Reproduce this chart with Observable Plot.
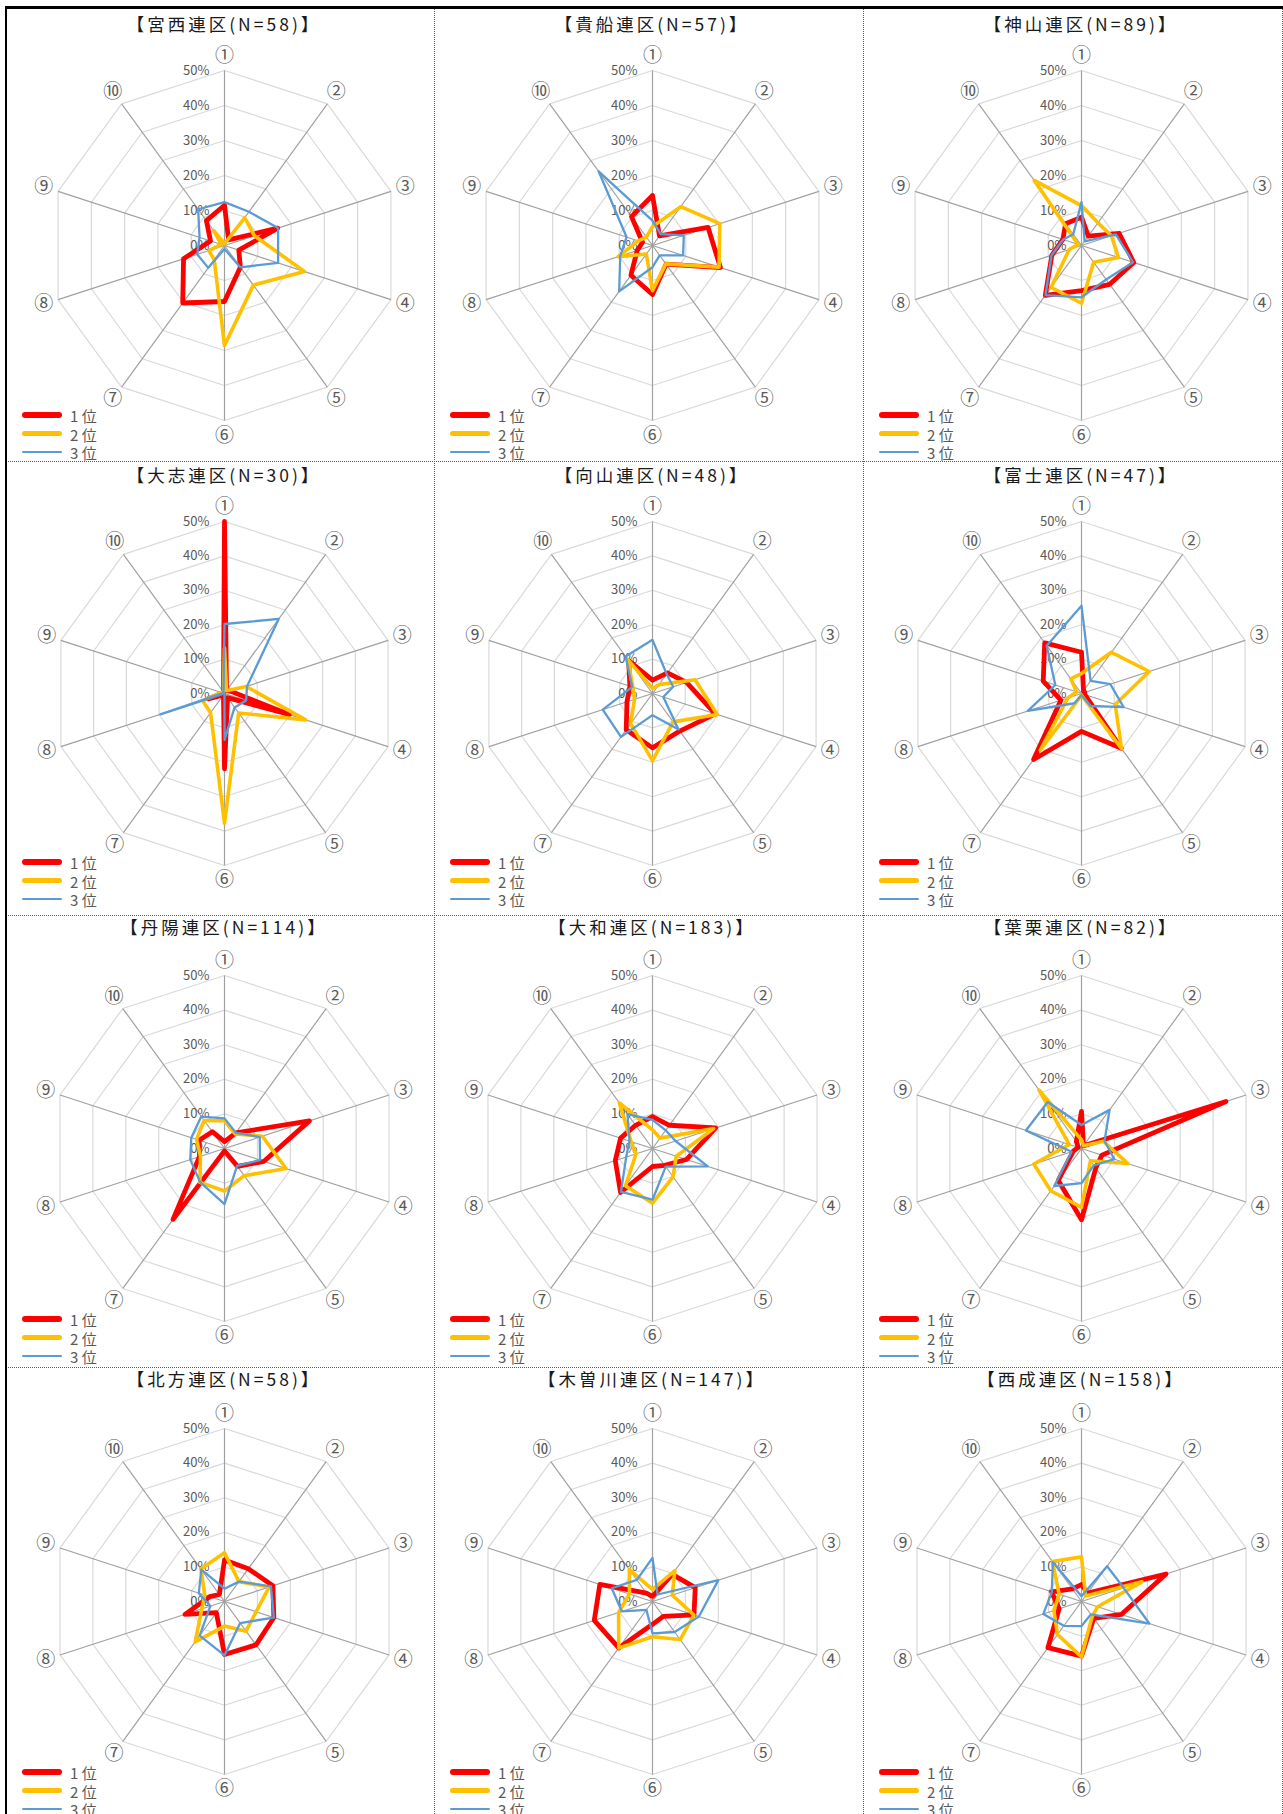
<!DOCTYPE html>
<html>
<head>
<meta charset="utf-8">
<script src="https://cdn.jsdelivr.net/npm/d3@7"></script>
<script src="https://cdn.jsdelivr.net/npm/@observablehq/plot@0.6"></script>
<style>
html, body { margin: 0; padding: 0; background: #fff; }
body { width: 1283px; height: 1814px; overflow: hidden; position: relative;
  font-family: "Noto Sans CJK JP", "Noto Sans", sans-serif; }
.abs { position: absolute; }
.title { position: absolute; text-align: center; font-size: 17.5px; letter-spacing: 3px;
  color: #1a1a1a; white-space: nowrap; line-height: 1; transform: translate(-50%, -50%); }
.legline { position: absolute; border-radius: 3px; }
.legtext { position: absolute; font-size: 15px; color: #595959; line-height: 1; transform: translateY(-50%); white-space: nowrap; }
.vsep { position: absolute; width: 0; border-left: 1px dotted #5a5a5a; }
.hsep { position: absolute; height: 0; border-top: 1px dotted #5a5a5a; }
svg { overflow: visible; }
</style>
</head>
<body>
<script>
// ---------- data ----------
const axisLabels = ["①","②","③","④","⑤","⑥","⑦","⑧","⑨","⑩"];
const gridTicks = [0, 10, 20, 30, 40, 50];
const rankNames = ["1 位", "2 位", "3 位"];
const districtNames = ["宮西連区","貴船連区","神山連区","大志連区","向山連区","富士連区",
                       "丹陽連区","大和連区","葉栗連区","北方連区","木曽川連区","西成連区"];
const districtN = [58, 57, 89, 30, 48, 47, 114, 183, 82, 58, 147, 158];

const rank1Values = [
  [11.5, 2, 16, 4.3, 7.7, 16, 20.3, 12.3, 4.2, 8.8],
  [14.3, 3.4, 16.7, 20.4, 6.6, 14, 10.5, 4.6, 3, 10.2],
  [8.1, 3.3, 11.3, 15.7, 13.7, 12.9, 17.6, 8.9, 5.6, 7.7],
  [50, 1, 2, 19.8, 1.5, 21.9, 0.5, 5, 0.5, 0.5],
  [3.9, 7.4, 10.4, 19.2, 13.5, 15.8, 13, 7.8, 6.9, 11.8],
  [12, 1, 1, 1, 19.7, 11, 23.7, 6.3, 11.7, 18.2],
  [2, 5.6, 25.8, 12, 6.4, 0.7, 25.3, 7.6, 7.7, 6],
  [9.2, 8.3, 19.2, 10.3, 6, 5.2, 15.7, 11.3, 9.7, 8.3],
  [10.7, 1, 43.9, 6.2, 7, 20.6, 11.4, 2.5, 1, 2.5],
  [12, 11.7, 14.7, 15, 15.5, 15.3, 4, 12, 4.5, 2.5],
  [1.5, 9.7, 13, 12.6, 5.3, 6.6, 16.6, 17.7, 16, 3],
  [4.9, 3, 25.7, 12.1, 6, 15.8, 16.5, 6.8, 9.1, 4.5]
];
const rank2Values = [
  [0.5, 9.8, 9, 24, 14, 28.6, 5, 4.7, 1, 5.3],
  [5.4, 13.7, 20.2, 20, 6.5, 12.9, 3, 10.3, 4.3, 3],
  [11.4, 8, 9, 11.1, 5.9, 16.5, 14.8, 3.7, 1, 23],
  [13.2, 1, 6.6, 24.8, 7, 37.7, 6.9, 6.7, 1, 0.5],
  [1.5, 3.2, 13, 19.8, 10.2, 19.5, 10.8, 5.5, 6, 12.2],
  [5.8, 14.8, 20.7, 10.3, 19.8, 0.5, 20.4, 4.2, 1.5, 5.3],
  [8, 5.2, 11.5, 18.7, 9.7, 12.3, 12.1, 7.3, 8.5, 10],
  [5.4, 3.7, 18.6, 7.2, 10.1, 15.8, 13.3, 5, 6.5, 16.3],
  [2.5, 1, 6.7, 14.1, 4.4, 17, 15.1, 14.5, 3.7, 20.9],
  [14.1, 7.1, 13.6, 9.6, 10.6, 7.1, 14.4, 6.9, 6, 11.6],
  [3.5, 11, 6, 12.6, 13.6, 10.2, 16.6, 10.3, 7, 11.4],
  [12.9, 2, 18.4, 4.9, 5.3, 16, 11.8, 8.4, 6.8, 14.3]
];
const rank3Values = [
  [12.4, 11.9, 16.1, 16.1, 7.7, 1, 7.9, 8.2, 7.5, 12.8],
  [7.1, 4, 9.4, 9.2, 3.5, 6.2, 16.2, 9.7, 7.8, 26.2],
  [12.4, 1.5, 10.3, 15.5, 12, 14.8, 17.5, 9, 5.5, 4],
  [20.2, 26.8, 6.9, 6.6, 5, 13.5, 0, 19.6, 0.5, 0.5],
  [15.6, 7, 6.3, 3.3, 12.9, 6.3, 15.6, 15.2, 6.2, 13.3],
  [25.5, 4.5, 8.8, 12.9, 4.5, 0.5, 3.5, 16.4, 8, 17.2],
  [8.7, 5.6, 10.7, 10.8, 6.2, 16.1, 12, 10.4, 10.1, 11.4],
  [8.3, 6.5, 7, 16.8, 6.5, 14.8, 15.5, 8, 7, 12.3],
  [6.8, 13.8, 7, 10, 6, 10, 13.4, 3, 16.9, 16.6],
  [3.7, 7.1, 14.1, 15, 7.7, 15.6, 12.2, 4.3, 7.8, 11.4],
  [12.6, 2.5, 20, 14.1, 10.9, 9.2, 3, 9.3, 12.4, 7.7],
  [1.5, 12.6, 12.8, 20.6, 4.6, 7.1, 8.7, 11.6, 9, 14.1]
];

// ---------- layout / style ----------
const rankColors = ["#FF0000", "#FFC000", "#5B9BD5"];
const rankWidths = [4.8, 3.6, 2.3];
const legendThick = [5.5, 4.5, 2.6];
const colLeft = [6, 434, 863], colRight = [434, 863, 1283];
const rowTop = [7, 461, 915, 1367], rowBottom = [461, 915, 1367, 1814];
const centerY = [245, 693, 1148, 1601];
const radius50 = [175, 172, 173, 173];
const titleY = [24, 475, 927, 1379];
const legendY = [415, 862, 1319, 1772];
const centerOffsetX = 218;

const ang = j => j * 2 * Math.PI / 10;
const px = (v, j) => v * Math.sin(ang(j));
const py = (v, j) => v * Math.cos(ang(j));

function closed(vals) {
  return d3.range(11).map(i => ({j: i % 10, v: vals[i % 10]}));
}

function radar(p) {
  const row = Math.floor(p / 3), col = p % 3;
  const W = colRight[col] - colLeft[col], H = rowBottom[row] - rowTop[row];
  const cx = centerOffsetX, cy = centerY[row] - rowTop[row];
  const k = radius50[row] / 50;
  const rings = gridTicks.filter(t => t > 0).flatMap(t => d3.range(11).map(i => ({t, j: i % 10})));
  const axes = axisLabels.map((label, j) => ({label, j}));
  const series = [rank1Values[p], rank2Values[p], rank3Values[p]];
  return Plot.plot({
    width: W, height: H, margin: 0,
    style: {background: "transparent", fontFamily: "'Noto Sans CJK JP', sans-serif", overflow: "visible"},
    x: {type: "linear", domain: [-cx / k, (W - cx) / k], range: [0, W], axis: null},
    y: {type: "linear", domain: [-(H - cy) / k, cy / k], range: [H, 0], axis: null},
    marks: [
      Plot.line(rings, {x: d => px(d.t, d.j), y: d => py(d.t, d.j), z: "t", stroke: "#d9d9d9", strokeWidth: 1.2}),
      Plot.link(axes, {x1: 0, y1: 0, x2: d => px(50, d.j), y2: d => py(50, d.j), stroke: "#a0a0a0", strokeWidth: 1.2}),
      Plot.text(gridTicks, {x: 0, y: d => d, text: d => d + "%", textAnchor: "end", dx: -15, fill: "#595959", fontSize: 13}),
      Plot.text(axes, {x: d => px(54.3, d.j), y: d => py(54.3, d.j), text: "label", fill: "#595959", fontSize: 19}),
      ...series.map((vals, r) => Plot.line(closed(vals), {
        x: d => px(d.v, d.j), y: d => py(d.v, d.j),
        stroke: rankColors[r], strokeWidth: rankWidths[r], strokeLinejoin: "round"
      }))
    ]
  });
}

for (let p = 0; p < 12; p++) {
  const row = Math.floor(p / 3), col = p % 3;
  const holder = document.createElement("div");
  holder.className = "abs";
  holder.style.left = colLeft[col] + "px";
  holder.style.top = rowTop[row] + "px";
  holder.appendChild(radar(p));
  document.body.appendChild(holder);

  const t = document.createElement("div");
  t.className = "title";
  t.style.left = (colLeft[col] + centerOffsetX) + "px";
  t.style.top = titleY[row] + "px";
  t.textContent = "【" + districtNames[p] + "(N=" + districtN[p] + ")】";
  document.body.appendChild(t);

  rankNames.forEach((name, r) => {
    const y = legendY[row] + r * 18.5;
    const ln = document.createElement("div");
    ln.className = "legline";
    ln.style.left = (colLeft[col] + 16) + "px";
    ln.style.width = "40px";
    ln.style.height = legendThick[r] + "px";
    ln.style.top = (y - legendThick[r] / 2) + "px";
    ln.style.background = rankColors[r];
    document.body.appendChild(ln);
    const tx = document.createElement("div");
    tx.className = "legtext";
    tx.style.left = (colLeft[col] + 64) + "px";
    tx.style.top = y + "px";
    tx.textContent = name;
    document.body.appendChild(tx);
  });
}

// separators and frame
[434, 863, 1282].forEach(x => {
  const d = document.createElement("div");
  d.className = "vsep"; d.style.left = x + "px"; d.style.top = "8px"; d.style.height = "1806px";
  document.body.appendChild(d);
});
[461, 915, 1367].forEach(y => {
  const d = document.createElement("div");
  d.className = "hsep"; d.style.top = y + "px"; d.style.left = "6px"; d.style.width = "1277px";
  document.body.appendChild(d);
});
const topLine = document.createElement("div");
topLine.className = "abs";
Object.assign(topLine.style, {left: "5px", top: "6px", width: "1278px", height: "2.5px", background: "#000"});
document.body.appendChild(topLine);
const leftLine = document.createElement("div");
leftLine.className = "abs";
Object.assign(leftLine.style, {left: "5px", top: "6px", width: "2px", height: "1808px", background: "#000"});
document.body.appendChild(leftLine);
</script>
</body>
</html>
